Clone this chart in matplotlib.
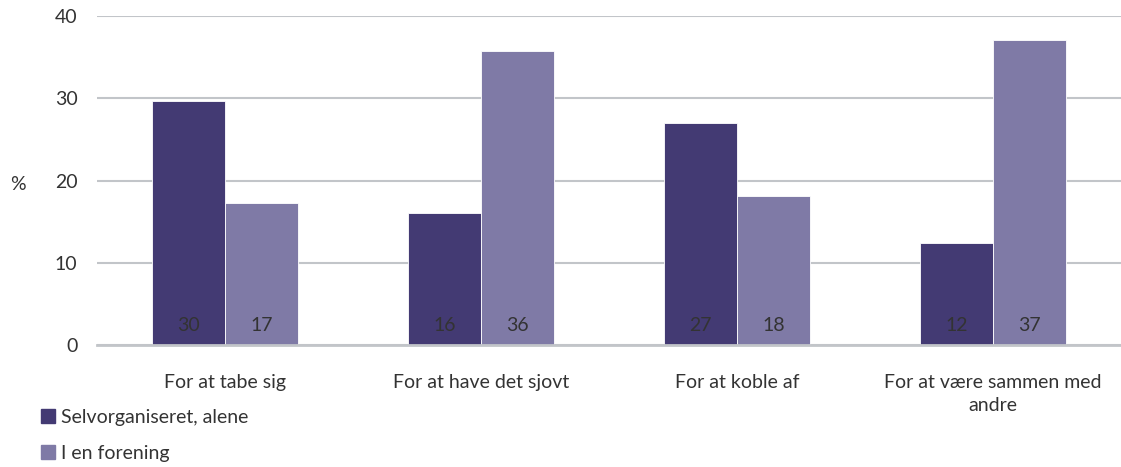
import matplotlib.pyplot as plt
import numpy as np
from matplotlib.patches import Patch

plt.rcParams['font.family'] = ['Lato', 'DejaVu Sans']

categories = ["For at tabe sig", "For at have det sjovt", "For at koble af",
              "For at være sammen med\nandre"]
alene = [29.7, 16.1, 27.0, 12.4]
forening = [17.3, 35.8, 18.1, 37.1]
series_names = ["Selvorganiseret, alene", "I en forening"]

dark = "#433a73"
light = "#7f7aa6"
grid_color = "#c2c5c9"
text_color = "#333333"
fs = 14

fig = plt.figure(figsize=(11.21, 4.67), dpi=100)
ax = fig.add_axes([97 / 1121, 1 - 345 / 467, 1 - 97 / 1121, 329 / 467])

x = np.arange(len(categories))
w = 0.285
b1 = ax.bar(x - w / 2, alene, w, color=dark, edgecolor="white", linewidth=0.6, zorder=3)
b2 = ax.bar(x + w / 2, forening, w, color=light, edgecolor="white", linewidth=0.6, zorder=3)

# value labels near the bottom of each bar
for bars, vals in ((b1, alene), (b2, forening)):
    for r, v in zip(bars, vals):
        ax.text(r.get_x() + r.get_width() / 2, 2.4, f"{round(v):d}",
                ha="center", va="center", fontsize=fs, color=text_color, zorder=4)

ax.set_xlim(-0.5, len(categories) - 0.5)
ax.set_ylim(0, 40)
ax.set_yticks([0, 10, 20, 30, 40])
ax.yaxis.grid(True, color=grid_color, linewidth=1.5, zorder=0)
ax.set_axisbelow(True)
for s in ("top", "right", "left"):
    ax.spines[s].set_visible(False)
ax.spines["bottom"].set_color(grid_color)
ax.spines["bottom"].set_linewidth(2)
ax.spines["bottom"].set_zorder(5)

ax.set_xticks(x)
ax.set_xticklabels(categories, fontsize=fs, color=text_color, linespacing=1.45)
ax.tick_params(axis="x", length=0, pad=21)
ax.tick_params(axis="y", length=0, pad=14, labelsize=fs, labelcolor=text_color)

fig.text(18 / 1121, 1 - 184 / 467, "%", fontsize=fs, color=text_color, ha="center", va="center")

handles = [Patch(color=dark), Patch(color=light)]
fig.legend(handles, series_names, loc="upper left", bbox_to_anchor=(23 / 1121, 1 - 391 / 467),
           frameon=False, fontsize=fs, handlelength=0.75, handleheight=0.75,
           handletextpad=0.3, labelspacing=1.0, labelcolor=text_color)

fig.savefig("out.png", dpi=100)
